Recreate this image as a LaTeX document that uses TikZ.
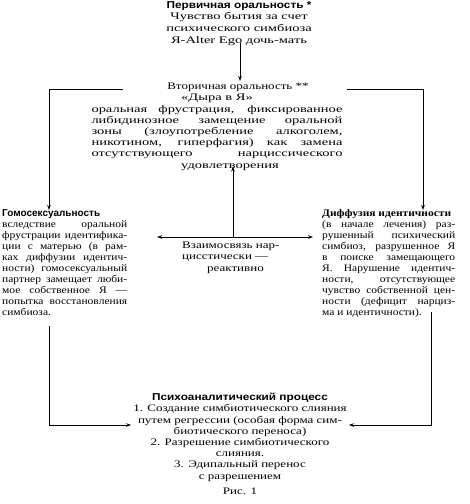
\documentclass[tikz,border=0pt]{standalone}
\usepackage{fontspec}
\setmainfont{Liberation Serif}[FakeStretch=1.3]
\newfontfamily\topfont{Liberation Serif}[FakeStretch=1.45]
\newfontfamily\sidefont{Liberation Serif}[FakeStretch=1.15]
\newfontfamily\hdA{Liberation Sans}[FakeStretch=1.18]
\newfontfamily\hdB{Liberation Sans}
\newfontfamily\hdC{Liberation Serif}[FakeStretch=1.15]
\usetikzlibrary{arrows.meta}
\tikzset{
  txt/.style={inner sep=0pt, font=\fontsize{10}{11.2}\selectfont},
  jtxt/.style={txt, align=justify, execute at begin node={\hyphenpenalty=10000\tolerance=10000\emergencystretch=20pt}},
  stxt/.style={jtxt, font=\sidefont\fontsize{10}{11}\selectfont},
  ctxt/.style={txt, align=center},
  conn/.style={line width=0.8pt},
  arr/.style={conn, -{Stealth[length=5pt,width=3.6pt]}}
}
\newcommand{\jline}[1]{\makebox[251pt][s]{#1}}
\begin{document}
\begin{tikzpicture}[x=1pt,y=-1pt]
\useasboundingbox (0,0) rectangle (470,504);
% nodes
\node[ctxt, anchor=north, font=\topfont\fontsize{10}{11.8}\selectfont] (prim) at (239,1)
  {{\hdA\bfseries Первичная оральность *}\\Чувство бытия за счет\\психического симбиоза\\Я-Alter Ego дочь-мать};
\node[ctxt, anchor=north, font=\topfont\fontsize{10}{11.2}\selectfont] (sec) at (217,83)
  {\hspace*{42pt}{\rmfamily Вторичная оральность **}\\
   «Дыра в Я»\\
   \jline{оральная фрустрация, фиксированное}\\
   \jline{либидинозное замещение оральной}\\
   \jline{зоны (злоупотребление алкоголем,}\\
   \jline{никотином, гиперфагия) как замена}\\
   \jline{отсутствующего нарциссического}\\
   \hspace*{26pt}удовлетворения};
\node[stxt, text width=125pt, anchor=north west] (homo) at (2,209)
  {\mbox{\hdB\bfseries Гомосексуальность}\newline
   вследствие оральной\linebreak
   фрустрации идентифика-\linebreak
   ции с матерью (в рам-\linebreak
   ках диффузии идентич-\linebreak
   ности) гомосексуальный\linebreak
   партнер замещает люби-\linebreak
   мое собственное Я —\linebreak
   попытка восстановления\linebreak
   симбиоза.};
\node[stxt, text width=133pt, anchor=north west] (diff) at (322,209)
  {\mbox{\hdC\bfseries Диффузия идентичности}\newline
   (в начале лечения) раз-\linebreak
   рушенный психический\linebreak
   симбиоз, разрушенное Я\linebreak
   в поиске замещающего\linebreak
   Я. Нарушение идентич-\linebreak
   ности, отсутствующее\linebreak
   чувство собственной цен-\linebreak
   ности (дефицит нарциз-\linebreak
   ма и идентичности).};
\node[txt, align=left, anchor=north west] (rel) at (182,242)
  {Взаимосвязь нар-\\цисстически —\\\hspace*{25pt}реактивно};
\node[ctxt, anchor=north] (psy) at (240,393)
  {{\hdA\bfseries Психоаналитический процесс}\\
   1. Создание симбиотического слияния\\
   путем регрессии (особая форма сим-\\
   биотического переноса)\\
   2. Разрешение симбиотического\\
   слияния.\\
   3. Эдипальный перенос\\
   с разрешением};
\node[txt, anchor=north] (fig) at (240,488) {Рис. 1};
% coordinates
\coordinate (lA) at (123,89);
\coordinate (lB) at (49,89);
\coordinate (rA) at (347,89);
\coordinate (rB) at (423,89);
\coordinate (J) at (233,237);
\coordinate (lD) at (49,326);
\coordinate (lE) at (49,425);
\coordinate (rD) at (431,312);
\coordinate (rE) at (431,425);
% connectors
\draw[arr] ([yshift=3pt]prim.south -| 240,0) -- (240,81);
\draw[arr] (lA) -- (lB) -- ([yshift=-1pt]lB |- homo.north);
\draw[arr] (rA) -- (rB) -- ([yshift=-1pt]rB |- diff.north);
\draw[arr] (J) -- ([yshift=4pt]J |- sec.south);
\draw[arr] (J) -- (157,237);
\draw[arr] (J) -- (313,237);
\draw[arr] (lD) -- (lE) -- ([xshift=-2pt]lE -| psy.west);
\draw[arr] (rD) -- (rE) -- ([xshift=2pt]rE -| psy.east);
\end{tikzpicture}
\end{document}
